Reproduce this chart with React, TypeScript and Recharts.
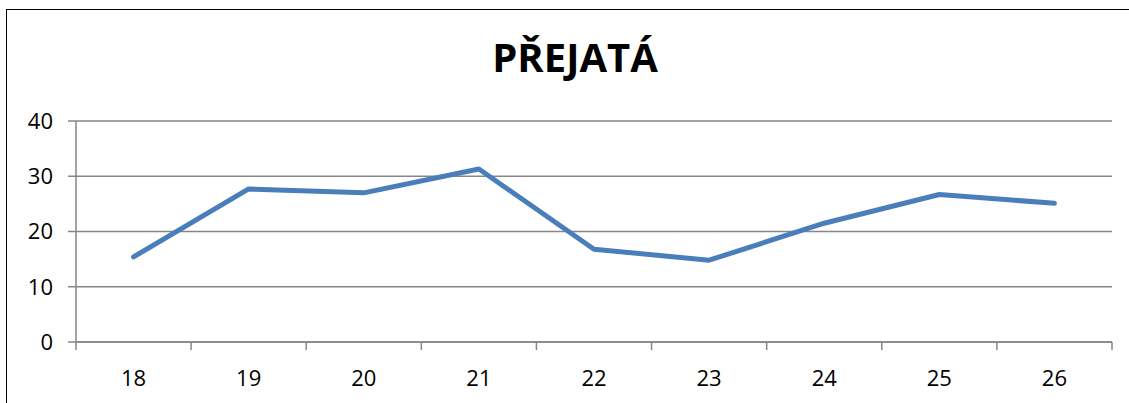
import { LineChart, Line, XAxis, YAxis, CartesianGrid } from "recharts";

// data
const categories = [18, 19, 20, 21, 22, 23, 24, 25, 26];
const values = [15.4, 27.7, 27.0, 31.3, 16.8, 14.8, 21.5, 26.7, 25.1];
const yTicks = [0, 10, 20, 30, 40];

const data = categories.map((c, i) => ({ cat: c, value: values[i] }));

// category boundaries carry the tick marks, the centres carry the labels
const boundaries = [...categories.map((c) => c - 0.5), categories[categories.length - 1] + 0.5];
const xTicks = [...boundaries, ...categories].sort((a, b) => a - b);

const GRID = "#868686";
const FONT = "'Open Sans', sans-serif";

function XTick(props: any) {
  const { x, y, payload } = props;
  const v = payload.value;
  if (!Number.isInteger(v)) {
    return <line x1={x} y1={y} x2={x} y2={y + 8} stroke={GRID} strokeWidth={1.5} />;
  }
  return (
    <text x={x} y={y + 44} textAnchor="middle" fontSize={22} fontFamily={FONT} fill="#000">
      {v}
    </text>
  );
}

export default function App() {
  return (
    <div style={{ position: "relative", width: 1129, height: 403, overflow: "hidden", background: "#fff" }}>
      <style>{"body { margin: 0; }"}</style>
      <div
        style={{
          position: "absolute",
          left: 6,
          top: 9,
          width: 1150,
          height: 430,
          border: "1.5px solid #000",
          boxSizing: "border-box",
        }}
      />
      <div
        style={{
          position: "absolute",
          left: 0,
          top: 37,
          width: 1150,
          textAlign: "center",
          fontFamily: FONT,
          fontWeight: 700,
          fontSize: 40,
          lineHeight: "40px",
          color: "#000",
        }}
      >
        PŘEJATÁ
      </div>
      <div style={{ position: "absolute", left: 0, top: 0 }}>
        <LineChart width={1129} height={403} data={data} margin={{ top: 121, right: 17, bottom: 11, left: 0 }}>
          <CartesianGrid vertical={false} stroke={GRID} strokeWidth={1.5} />
          <XAxis
            dataKey="cat"
            type="number"
            domain={[boundaries[0], boundaries[boundaries.length - 1]]}
            ticks={xTicks}
            interval={0}
            tick={<XTick />}
            tickLine={false}
            tickSize={0}
            tickMargin={0}
            axisLine={{ stroke: GRID, strokeWidth: 1.5 }}
            height={50}
          />
          <YAxis
            domain={[0, 40]}
            ticks={yTicks}
            interval={0}
            width={76}
            tickSize={8}
            tickMargin={15}
            tickLine={{ stroke: GRID, strokeWidth: 1.5 }}
            axisLine={{ stroke: GRID, strokeWidth: 1.5 }}
            tick={{ fill: "#000", fontSize: 22, fontFamily: FONT }}
          />
          <Line
            dataKey="value"
            type="linear"
            stroke="#4a7ebb"
            strokeWidth={5}
            strokeLinecap="round"
            strokeLinejoin="round"
            dot={false}
            activeDot={false}
            isAnimationActive={false}
          />
        </LineChart>
      </div>
    </div>
  );
}
